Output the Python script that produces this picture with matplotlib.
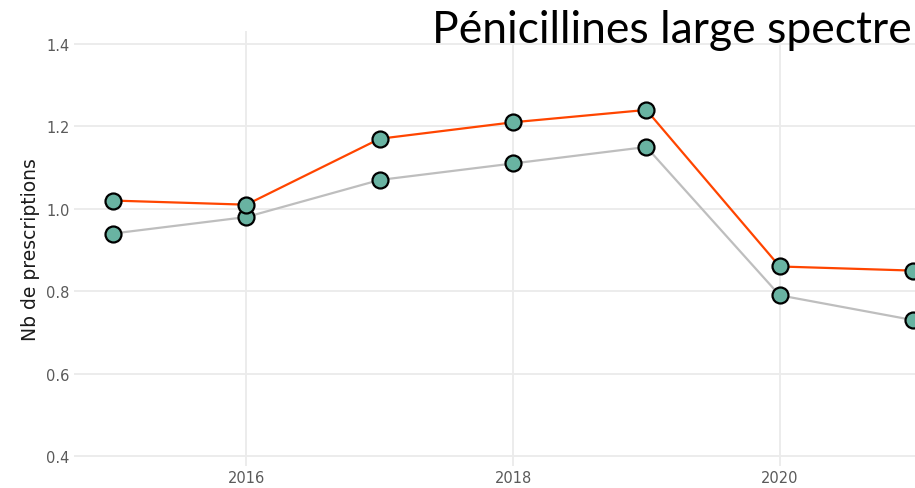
import matplotlib
matplotlib.use("Agg")
import matplotlib.pyplot as plt

# Data
years = [2015, 2016, 2017, 2018, 2019, 2020, 2021]
serie_orange = [1.02, 1.01, 1.17, 1.21, 1.24, 0.86, 0.85]
serie_grise = [0.94, 0.98, 1.07, 1.11, 1.15, 0.79, 0.73]
x_ticks = [2016, 2018, 2020]
y_ticks = [0.4, 0.6, 0.8, 1.0, 1.2, 1.4]

plt.rcParams['font.family'] = ['DejaVu Sans']

fig = plt.figure(figsize=(9.15, 4.89), dpi=100)
ax = fig.add_axes([74 / 915, 1 - 467 / 489, 1 - 74 / 915, (467 - 32) / 489])

ax.plot(years, serie_grise, color='#bebebe', lw=1.6, zorder=3, clip_on=False,
        marker='o', ms=11.5, mfc='#69b3a2', mec='black', mew=1.6)
ax.plot(years, serie_orange, color='#ff4500', lw=1.6, zorder=4, clip_on=False,
        marker='o', ms=11.5, mfc='#69b3a2', mec='black', mew=1.6)

ax.set_xlim(2015 - 39 / 133.3, 2021 + 2 / 133.3)
ax.set_ylim(0.4 - 10 / 412, 1.4 + 13 / 412)
ax.set_xticks(x_ticks)
ax.set_yticks(y_ticks)
ax.set_yticklabels([f"{v:.1f}" for v in y_ticks])
ax.grid(True, color='#ebebeb', lw=1.3)
ax.set_axisbelow(True)
for s in ax.spines.values():
    s.set_visible(False)
ax.tick_params(length=0, labelsize=10.5, labelcolor='#5a5a5a', pad=3)
ax.set_ylabel("Nb de prescriptions", fontsize=13.5, color='#1a1a1a', labelpad=5)

fig.text(912 / 915, 1 - 43 / 489, "Pénicillines large spectre", ha='right', va='baseline',
         fontsize=32, family=['Lato', 'DejaVu Sans'], color='black')

fig.savefig("out.png", dpi=100)
